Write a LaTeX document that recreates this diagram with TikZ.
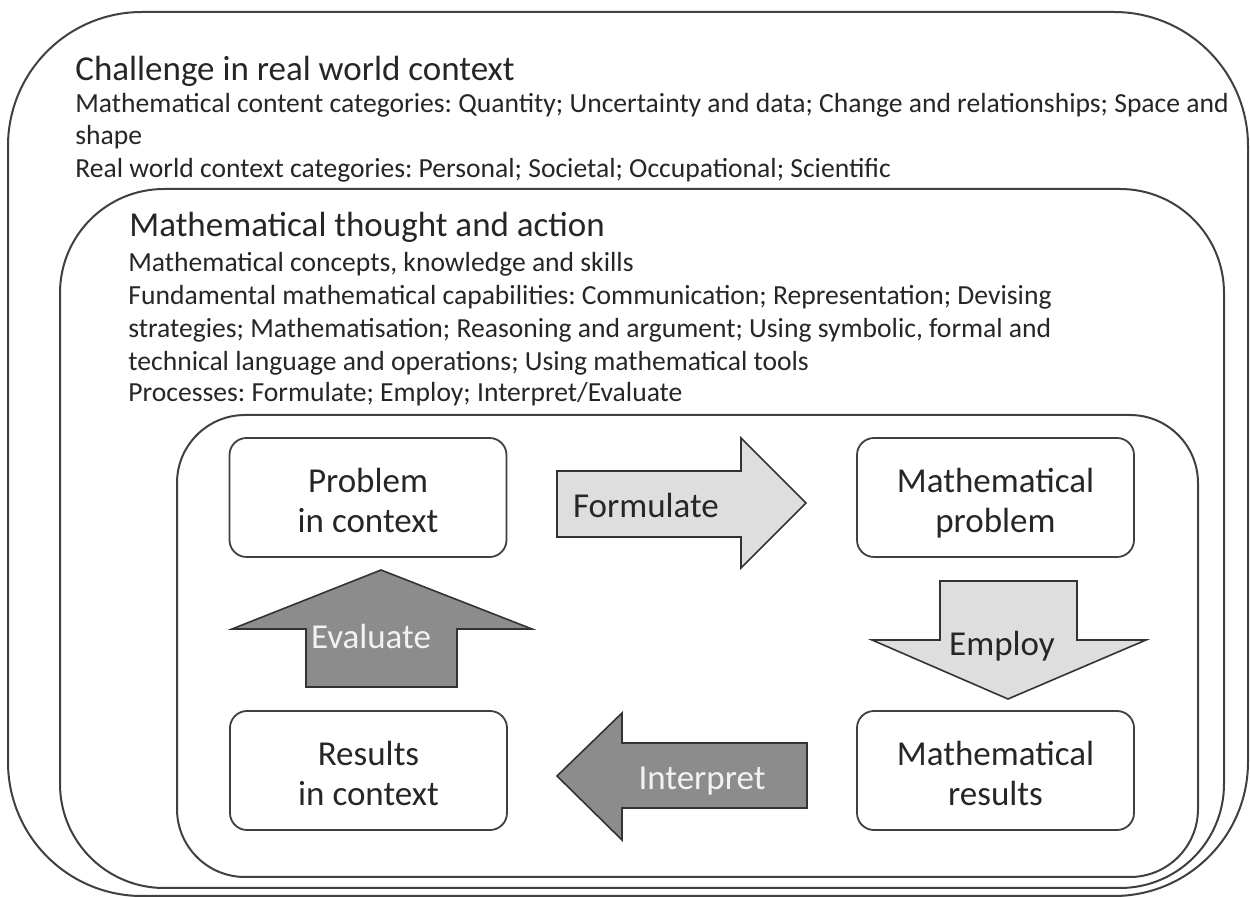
\documentclass[tikz,border=0pt]{standalone}
\usepackage{fontspec}
\setmainfont{Carlito}
\frenchspacing
\begin{document}
\begin{tikzpicture}[x=0.5pt,y=-0.5pt,
  frame/.style={draw=black!75, line width=1pt},
  box/.style={draw=black!75, line width=0.9pt, rounded corners=8.5pt, minimum width=138.5pt, minimum height=59.5pt, align=center, font=\fontsize{17.5}{20}\selectfont, text height=35.5pt, text depth=0pt, inner sep=0pt, text=black!85},
  lightarrow/.style={draw=black!80, line width=0.8pt, fill=black!13, line join=miter},
  darkarrow/.style={draw=black!80, line width=0.8pt, fill=black!45, line join=miter},
  titletext/.style={anchor=base west, inner sep=0pt, font=\fontsize{17.5}{20}\selectfont, text=black!85},
  bodytext/.style={anchor=base west, inner sep=0pt, font=\fontsize{13.8}{16}\selectfont, text=black!85},
  darklabel/.style={anchor=base, inner sep=0pt, font=\fontsize{17.5}{20}\selectfont, text=black!5},
  lightlabel/.style={anchor=base, inner sep=0pt, font=\fontsize{17.5}{20}\selectfont, text=black!85},
]
\useasboundingbox[fill=white] (0,0) rectangle (1250,898);
% frames
\draw[frame, rounded corners=67pt] (8,12) rectangle (1248,896);
\draw[frame, rounded corners=52pt] (60,189) rectangle (1224,888);
\draw[frame, rounded corners=34pt] (177,415) rectangle (1198,877);
% outer texts
\node[titletext] (t1) at (75,81) {Challenge in real world context};
\node[bodytext] (t1a) at (75,113) {Mathematical content categories: Quantity; Uncertainty and data; Change and relationships; Space and};
\node[bodytext] (t1b) at (75,145) {shape};
\node[bodytext] (t1c) at (75,178) {Real world context categories: Personal; Societal; Occupational; Scientific};
% middle texts
\node[titletext] (t2) at (129,237) {Mathematical thought and action};
\node[bodytext] (t2a) at (128,272) {Mathematical concepts, knowledge and skills};
\node[bodytext] (t2b) at (128,305) {Fundamental mathematical capabilities: Communication; Representation; Devising};
\node[bodytext] (t2c) at (128,338) {strategies; Mathematisation; Reasoning and argument; Using symbolic, formal and};
\node[bodytext] (t2d) at (128,371) {technical language and operations; Using mathematical tools};
\node[bodytext] (t2e) at (128,402) {Processes: Formulate; Employ; Interpret/Evaluate};
% boxes
\node[box] (pic) at (368,497.5) {Problem\\in context};
\node[box] (mp) at (995.5,497.5) {Mathematical\\problem};
\node[box] (ric) at (368.5,770.5) {Results\\in context};
\node[box] (mr) at (995.5,770.5) {Mathematical\\results};
% block arrows
\draw[lightarrow] (557,471) -- (741,471) -- (741,438) -- (806,503) -- (741,568) -- (741,537) -- (557,537) -- cycle;
\node[lightlabel] (lf) at (646,518) {Formulate};
\draw[lightarrow] (940,581) -- (1077,581) -- (1077,640) -- (1146,640) -- (1008,699) -- (872,640) -- (940,640) -- cycle;
\node[lightlabel] (le) at (1002,656) {Employ};
\draw[darkarrow] (557,776) -- (622,713) -- (622,743) -- (807,743) -- (807,808) -- (622,808) -- (622,840) -- cycle;
\node[darklabel] (li) at (702,790) {Interpret};
\draw[darkarrow] (381,570) -- (532,629) -- (457,629) -- (457,687) -- (306,687) -- (306,629) -- (232,629) -- cycle;
\node[darklabel] (lv) at (371,649) {Evaluate};
\end{tikzpicture}
\end{document}
